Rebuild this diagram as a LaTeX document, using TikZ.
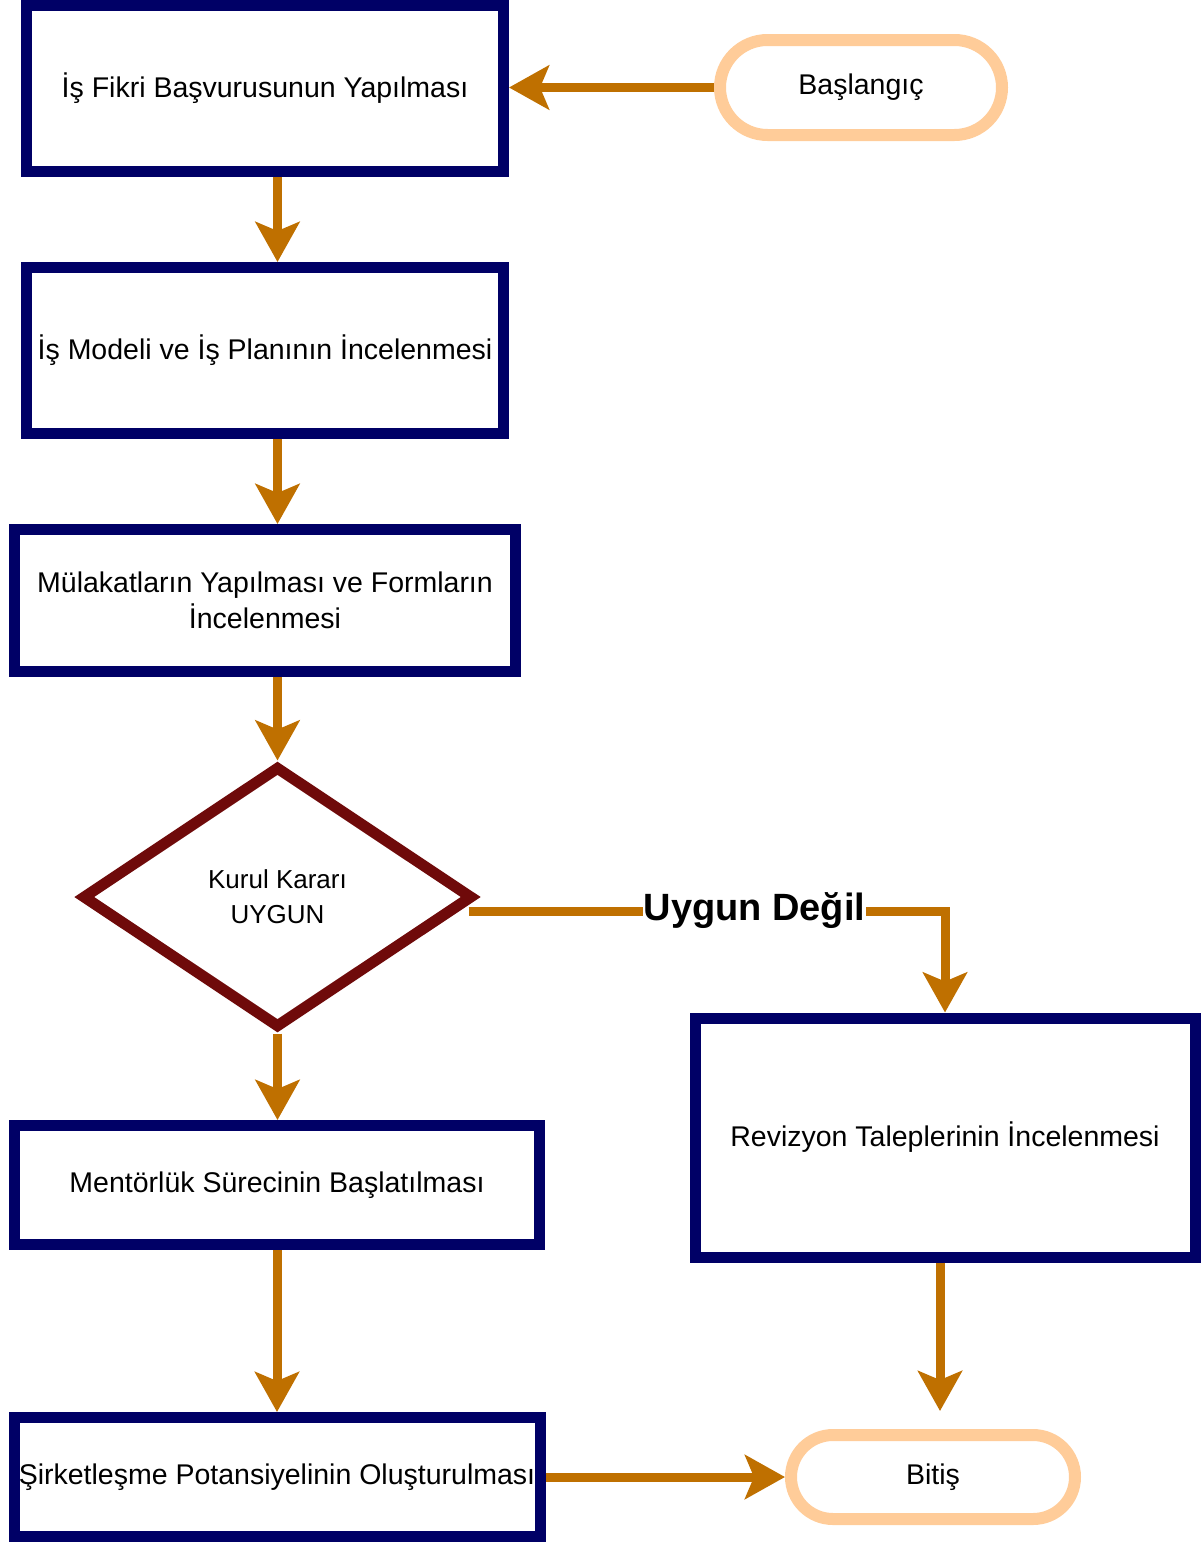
\documentclass[tikz,border=0pt]{standalone}
\usepackage{fontspec}
\setmainfont{Liberation Sans}
\usetikzlibrary{arrows.meta,shapes.geometric,positioning,calc}
\definecolor{boxblue}{HTML}{000066}
\definecolor{decred}{HTML}{6F0A0A}
\definecolor{termpeach}{HTML}{FFCC99}
\definecolor{flowor}{HTML}{BF7000}

\begin{document}
\begin{tikzpicture}
[x=1pt,y=-1pt,
proc/.style={draw=boxblue,line width=11pt,fill=white,inner sep=0pt,align=center,font=\fontsize{28.5pt}{36pt}\selectfont},
decide/.style={diamond,draw=decred,line width=11pt,fill=white,inner sep=0pt,aspect=1.5,align=center,font=\fontsize{26pt}{35pt}\selectfont},
term/.style={draw=termpeach,line width=12pt,fill=white,inner sep=0pt,font=\fontsize{28.5pt}{36pt}\selectfont},
flow/.style={draw=flowor,line width=9pt,-{Stealth[length=40pt,width=44pt,inset=9pt]}}]
\useasboundingbox (0,0) rectangle (1200,1542);
%% Main column
\node[proc,minimum width=477pt,minimum height=166pt] (fikir) at (265,88.5) {İş Fikri Başvurusunun Yapılması};
\node[proc,minimum width=477pt,minimum height=166pt] (model) at (265,350.5) {İş Modeli ve İş Planının İncelenmesi};
\node[proc,minimum width=501pt,minimum height=142pt] (mulakat) at (265,600.5) {Mülakatların Yapılması ve Formların\\İncelenmesi};
\node[decide,minimum width=391pt,minimum height=262pt] (dec) at (277.5,897) {Kurul Kararı\\UYGUN};
\node[proc,minimum width=525pt,minimum height=119pt] (mentor) at (277,1185) {Mentörlük Sürecinin Başlatılması};
\node[proc,minimum width=526pt,minimum height=119pt] (sirket) at (277,1477) {Şirketleşme Potansiyelinin Oluşturulması};
% right side
\node[term,minimum width=282pt,minimum height=95pt,rounded corners=47.5pt] (basla) at (861,87.5) {Başlangıç};
\node[proc,minimum width=500pt,minimum height=239pt] (rev) at (945,1137.5) {Revizyon Taleplerinin İncelenmesi};
\node[term,minimum width=284pt,minimum height=84pt,rounded corners=42pt] (bitis) at (933,1477) {Bitiş};
%% Edges
\draw[flow] (basla.west) -- (basla.west -| fikir.east);
\draw[flow] (fikir.south -| dec) -- (model.north -| dec);
\draw[flow] (model.south -| dec) -- (mulakat.north -| dec);
\draw[flow] (mulakat.south -| dec) -- (dec.north);
\draw[flow] (dec.south) -- (mentor.north -| dec);
\draw[flow] (mentor.south) -- (sirket.north);
\draw[flow] (sirket.east) -- (bitis.west);
\draw[flow] ([xshift=-10pt,yshift=-14pt]dec.east) -| node[pos=0.3,fill=white,inner sep=1pt,text=black,font=\fontsize{38pt}{44pt}\selectfont\bfseries] {Uygun Değil} (rev.north);
\draw[flow,shorten >=18pt] ([xshift=-5pt]rev.south) -- ([xshift=-5pt]rev.south |- bitis.north);
\end{tikzpicture}
\end{document}
